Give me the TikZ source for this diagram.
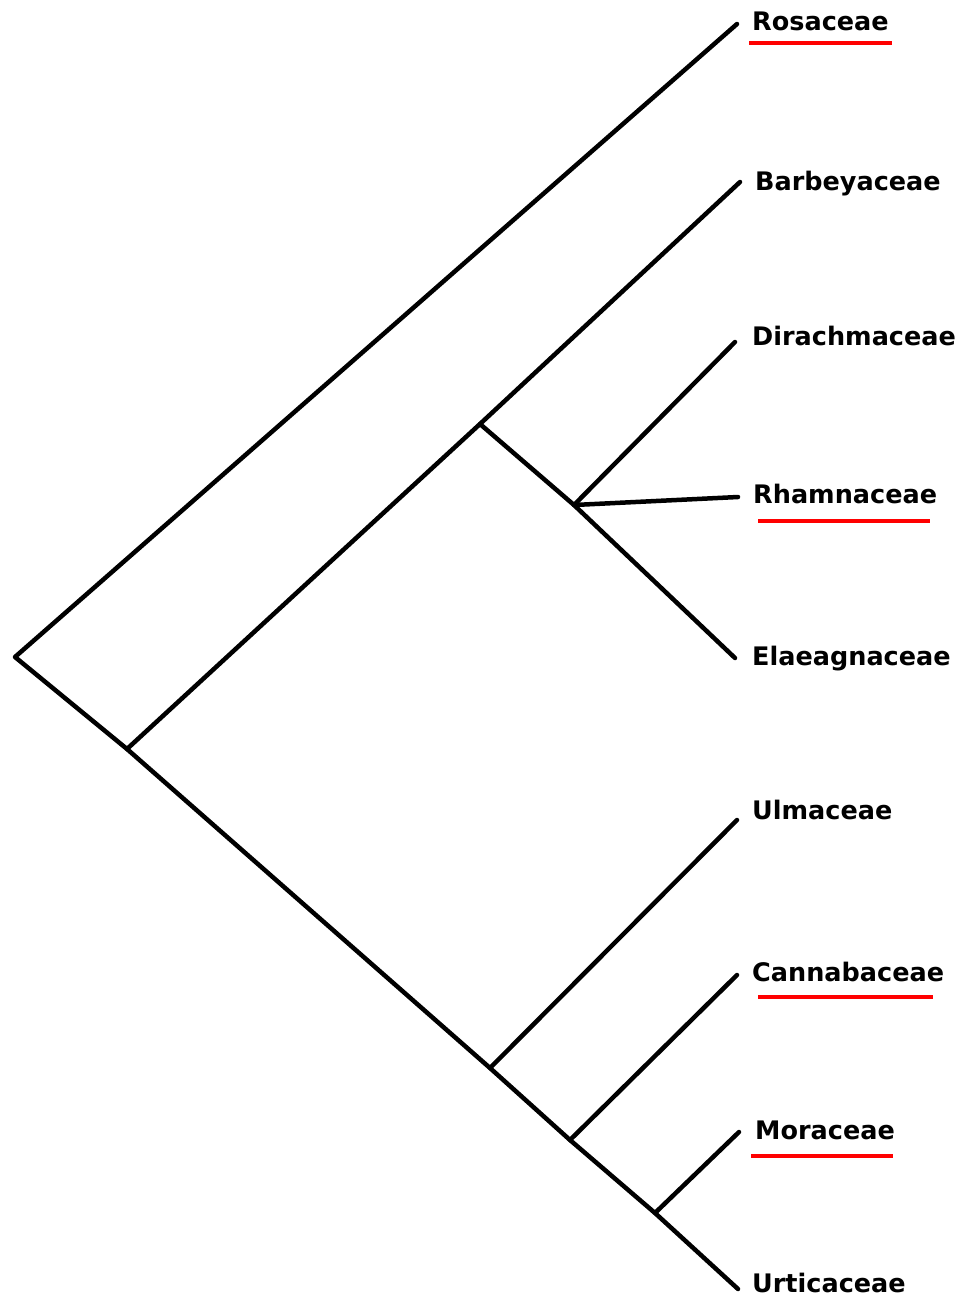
\documentclass[tikz,border=0pt]{standalone}
\usepackage{fontspec}
\setmainfont{DejaVu Sans}
\begin{document}
\begin{tikzpicture}[x=1pt,y=-1pt,
  branch/.style={line width=4.5pt,line cap=round,line join=round,black},
  taxon/.style={anchor=base west,inner sep=0pt,font=\fontsize{25.5}{28}\selectfont\bfseries},
  uline/.style={red,line width=3.2pt}]
\useasboundingbox (0,0) rectangle (963,1297);
% junctions
\coordinate (root) at (15,657);
\coordinate (A) at (127,749);
\coordinate (B) at (480,424);
\coordinate (C) at (574,505);
\coordinate (D) at (490,1068);
\coordinate (E) at (570,1140);
\coordinate (F) at (655,1213);
% tips
\coordinate (tRos) at (737,24);
\coordinate (tBar) at (740,182);
\coordinate (tDir) at (735,342);
\coordinate (tRha) at (738,497);
\coordinate (tEla) at (735,658);
\coordinate (tUlm) at (737,820);
\coordinate (tCan) at (737,975);
\coordinate (tMor) at (739,1132);
\coordinate (tUrt) at (738,1289);
% labels
\node[taxon] (lRos) at (752,31) {Rosaceae};
\node[taxon] (lBar) at (755,191) {Barbeyaceae};
\node[taxon] (lDir) at (752,345) {Dirachmaceae};
\node[taxon] (lRha) at (753,503) {Rhamnaceae};
\node[taxon] (lEla) at (752,665) {Elaeagnaceae};
\node[taxon] (lUlm) at (752,819) {Ulmaceae};
\node[taxon] (lCan) at (752,981) {Cannabaceae};
\node[taxon] (lMor) at (755,1139) {Moraceae};
\node[taxon] (lUrt) at (752,1292) {Urticaceae};
% branches
\draw[branch] (tRos) -- (root) -- (A) -- (D) -- (E) -- (F) -- (tUrt);
\draw[branch] (A) -- (B) -- (tBar);
\draw[branch] (B) -- (C) -- (tEla);
\draw[branch] (C) -- (tDir);
\draw[branch] (C) -- (tRha);
\draw[branch] (D) -- (tUlm);
\draw[branch] (E) -- (tCan);
\draw[branch] (F) -- (tMor);
% underlines
\draw[uline] (749,43) -- (892,43);
\draw[uline] (758,521) -- (930,521);
\draw[uline] (758,997) -- (933,997);
\draw[uline] (751,1156) -- (893,1156);
\end{tikzpicture}
\end{document}
